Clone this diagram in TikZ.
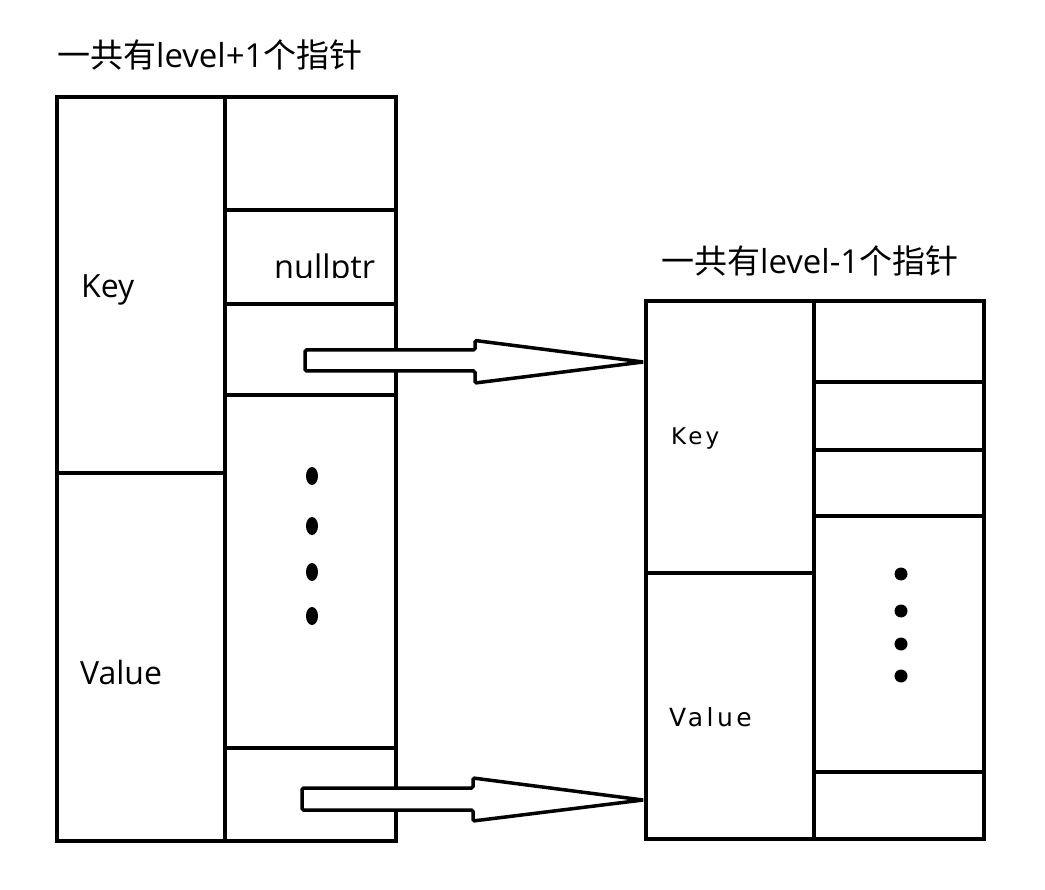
\documentclass[tikz,border=0pt]{standalone}
\usepackage{fontspec}
\setmainfont{Open Sans}
\newfontfamily\cjk{Noto Sans CJK SC}
\newfontfamily\widefont[LetterSpace=14]{DejaVu Sans}
\usetikzlibrary{calc}

\begin{document}
\begin{tikzpicture}[x=1pt, y=-1pt,
    box/.style={draw, line width=4pt},
    ptr/.style={draw, fill=white, line width=3.5pt, rounded corners=1.5pt},
    lbl/.style={inner sep=0pt, anchor=base west}]
      \useasboundingbox (0,0) rectangle (1045,890);
      % Left node: level+1 pointers
      \draw[box] (57,97) rectangle (225,473);
      \draw[box] (57,473) rectangle (225,841);
      \foreach \ya/\yb in {97/210, 210/304, 304/395, 395/748, 748/841}
        \draw[box] (225,\ya) rectangle (396,\yb);
      \foreach \y in {476,526,572,616}
        \fill (312,\y) ellipse [x radius=6pt, y radius=9pt];
      % Right node: level-1 pointers
      \draw[box] (646,301) rectangle (814,573);
      \draw[box] (646,573) rectangle (814,839);
      \foreach \ya/\yb in {301/382, 382/450, 450/516, 516/772, 772/839}
        \draw[box] (814,\ya) rectangle (984,\yb);
      \foreach \y in {574,611,644,676}
        \fill (901,\y) circle [radius=6.5pt];
      % Labels
      \node[lbl] (titleA) at (57,68) {\fontsize{33}{38}\selectfont{\cjk 一共有}level+1{\cjk 个指针}};
      \node[lbl] (titleB) at (661,274) {\fontsize{33}{38}\selectfont{\cjk 一共有}level-1{\cjk 个指针}};
      \node[lbl] (keyA) at (81,298) {\fontsize{32}{36}\selectfont Key};
      \node[lbl] (valueA) at (80,684) {\fontsize{32}{36}\selectfont Value};
      \node[lbl] (keyB) at (671,445) {\fontsize{23}{26}\selectfont\widefont Key};
      \node[lbl] (valueB) at (669,726) {\fontsize{25}{30}\selectfont\widefont Value};
      \begin{scope}
        \clip (228,213) rectangle (393,278);
        \node[lbl] (nullA) at (274,279) {\fontsize{32.5}{36}\selectfont nullptr};
      \end{scope}
      % Pointer arrows
      \coordinate (tailA) at (305,360.5);
      \coordinate (tipA) at (643,362);
      \coordinate (tailB) at (302,799);
      \coordinate (tipB) at (643,800);
      \draw[ptr] ($(tailA)+(0,-10.5)$) -- ++(170,0) -- ++(0,-9.5) -- (tipA)
        -- ($(tailA)+(170,22.5)$) -- ++(0,-12) -- ++(-170,0) -- cycle;
      \draw[ptr] ($(tailB)+(0,-11)$) -- ++(171,0) -- ++(0,-10) -- (tipB)
        -- ($(tailB)+(171,22)$) -- ++(0,-11) -- ++(-171,0) -- cycle;
    \end{tikzpicture}
\end{document}
